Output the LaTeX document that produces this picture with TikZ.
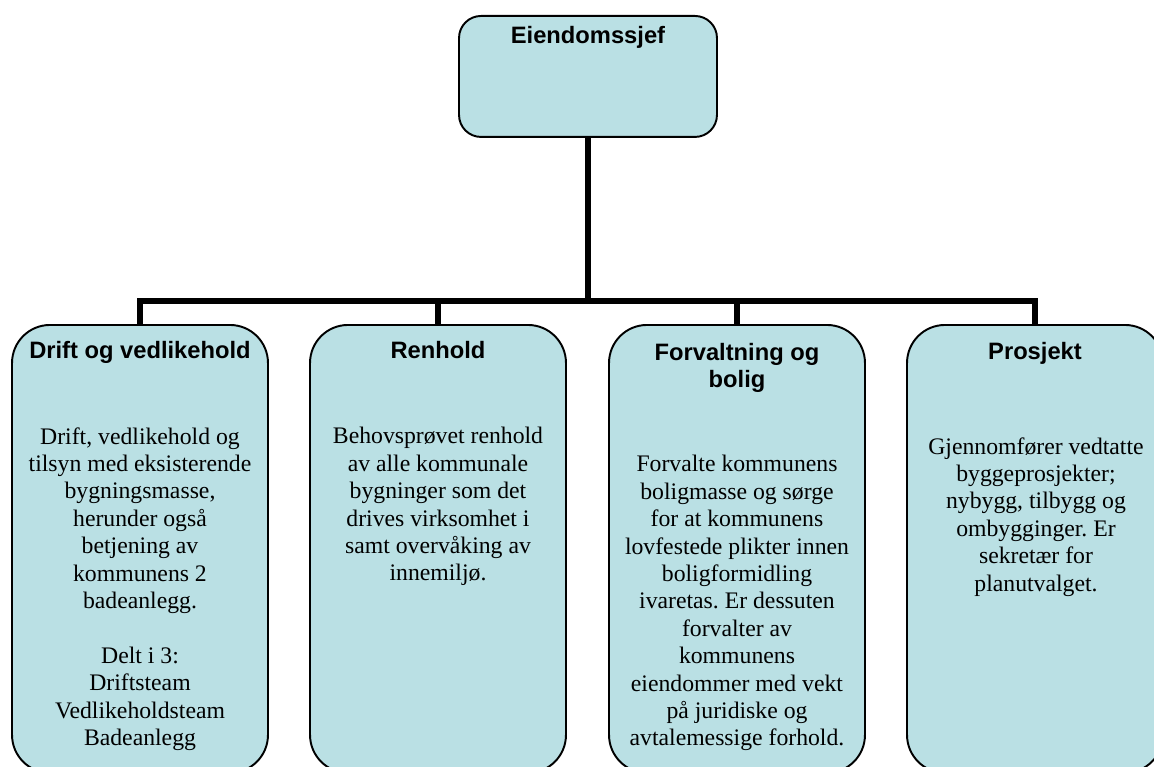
\documentclass[tikz,border=0pt]{standalone}
\usepackage{fontspec}
\setmainfont{Liberation Serif}
\setsansfont{Liberation Sans}
\usetikzlibrary{positioning}
\frenchspacing
\definecolor{boxblue}{RGB}{186,224,228}
\tikzset{
  unit/.style={draw=black, line width=1.1pt, fill=boxblue, rounded corners=0.76cm,
    minimum width=5.12cm, minimum height=8.96cm, anchor=north, inner sep=0pt},
  head/.style={font=\sffamily\bfseries\fontsize{13.5}{15.3}\selectfont,
    align=center, anchor=north, inner sep=0pt},
  body/.style={font=\fontsize{13.5}{15.6}\selectfont,
    align=center, anchor=north, inner sep=0pt},
  link/.style={line width=3.4pt}
}

\begin{document}
\begin{tikzpicture}[x=0.02cm, y=-0.02cm]
  \useasboundingbox (0,0) rectangle (1154,767);
  \clip (0,0) rectangle (1154,767);

  % leader
  \node[unit, rounded corners=0.44cm, minimum width=5.16cm, minimum height=2.42cm]
    (chef) at (588,15) {};
  \node[head] (chefH) at (588,26) {Eiendomssjef};

  % units
  \node[unit] (drift) at (140,324) {};
  \node[unit] (renhold) at (438,324) {};
  \node[unit] (forvaltning) at (737,324) {};
  \node[unit] (prosjekt) at (1035,324) {};

  \node[head] (driftH) at (140,341) {Drift og vedlikehold};
  \node[head] (renholdH) at (438,341) {Renhold};
  \node[head] (forvaltningH) at (737,343) {Forvaltning og\\bolig};
  \node[head] (prosjektH) at (1035,342) {Prosjekt};

  \node[body] (driftB) at (140,427) {Drift, vedlikehold og\\tilsyn med eksisterende\\bygningsmasse,\\herunder også\\betjening av\\kommunens 2\\badeanlegg.\\[15.6pt]Delt i 3:\\Driftsteam\\Vedlikeholdsteam\\Badeanlegg};
  \node[body] (renholdB) at (438,427) {Behovsprøvet renhold\\av alle kommunale\\bygninger som det\\drives virksomhet i\\samt overvåking av\\innemiljø.};
  \node[body] (forvaltningB) at (737,455) {Forvalte kommunens\\boligmasse og sørge\\for at kommunens\\lovfestede plikter innen\\boligformidling\\ivaretas. Er dessuten\\forvalter av\\kommunens\\eiendommer med vekt\\på juridiske og\\avtalemessige forhold.};
  \node[body] (prosjektB) at (1036,437) {Gjennomfører vedtatte\\byggeprosjekter;\\nybygg, tilbygg og\\ombygginger. Er\\sekretær for\\planutvalget.};

  % lines
  \coordinate (bar) at (588,301);
  \draw[link] (chef.south) -- (bar);
  \draw[link] (drift.north) |- (bar) -| (prosjekt.north);
  \draw[link] (renhold.north) -- (renhold.north |- bar);
  \draw[link] (forvaltning.north) -- (forvaltning.north |- bar);
\end{tikzpicture}
\end{document}
